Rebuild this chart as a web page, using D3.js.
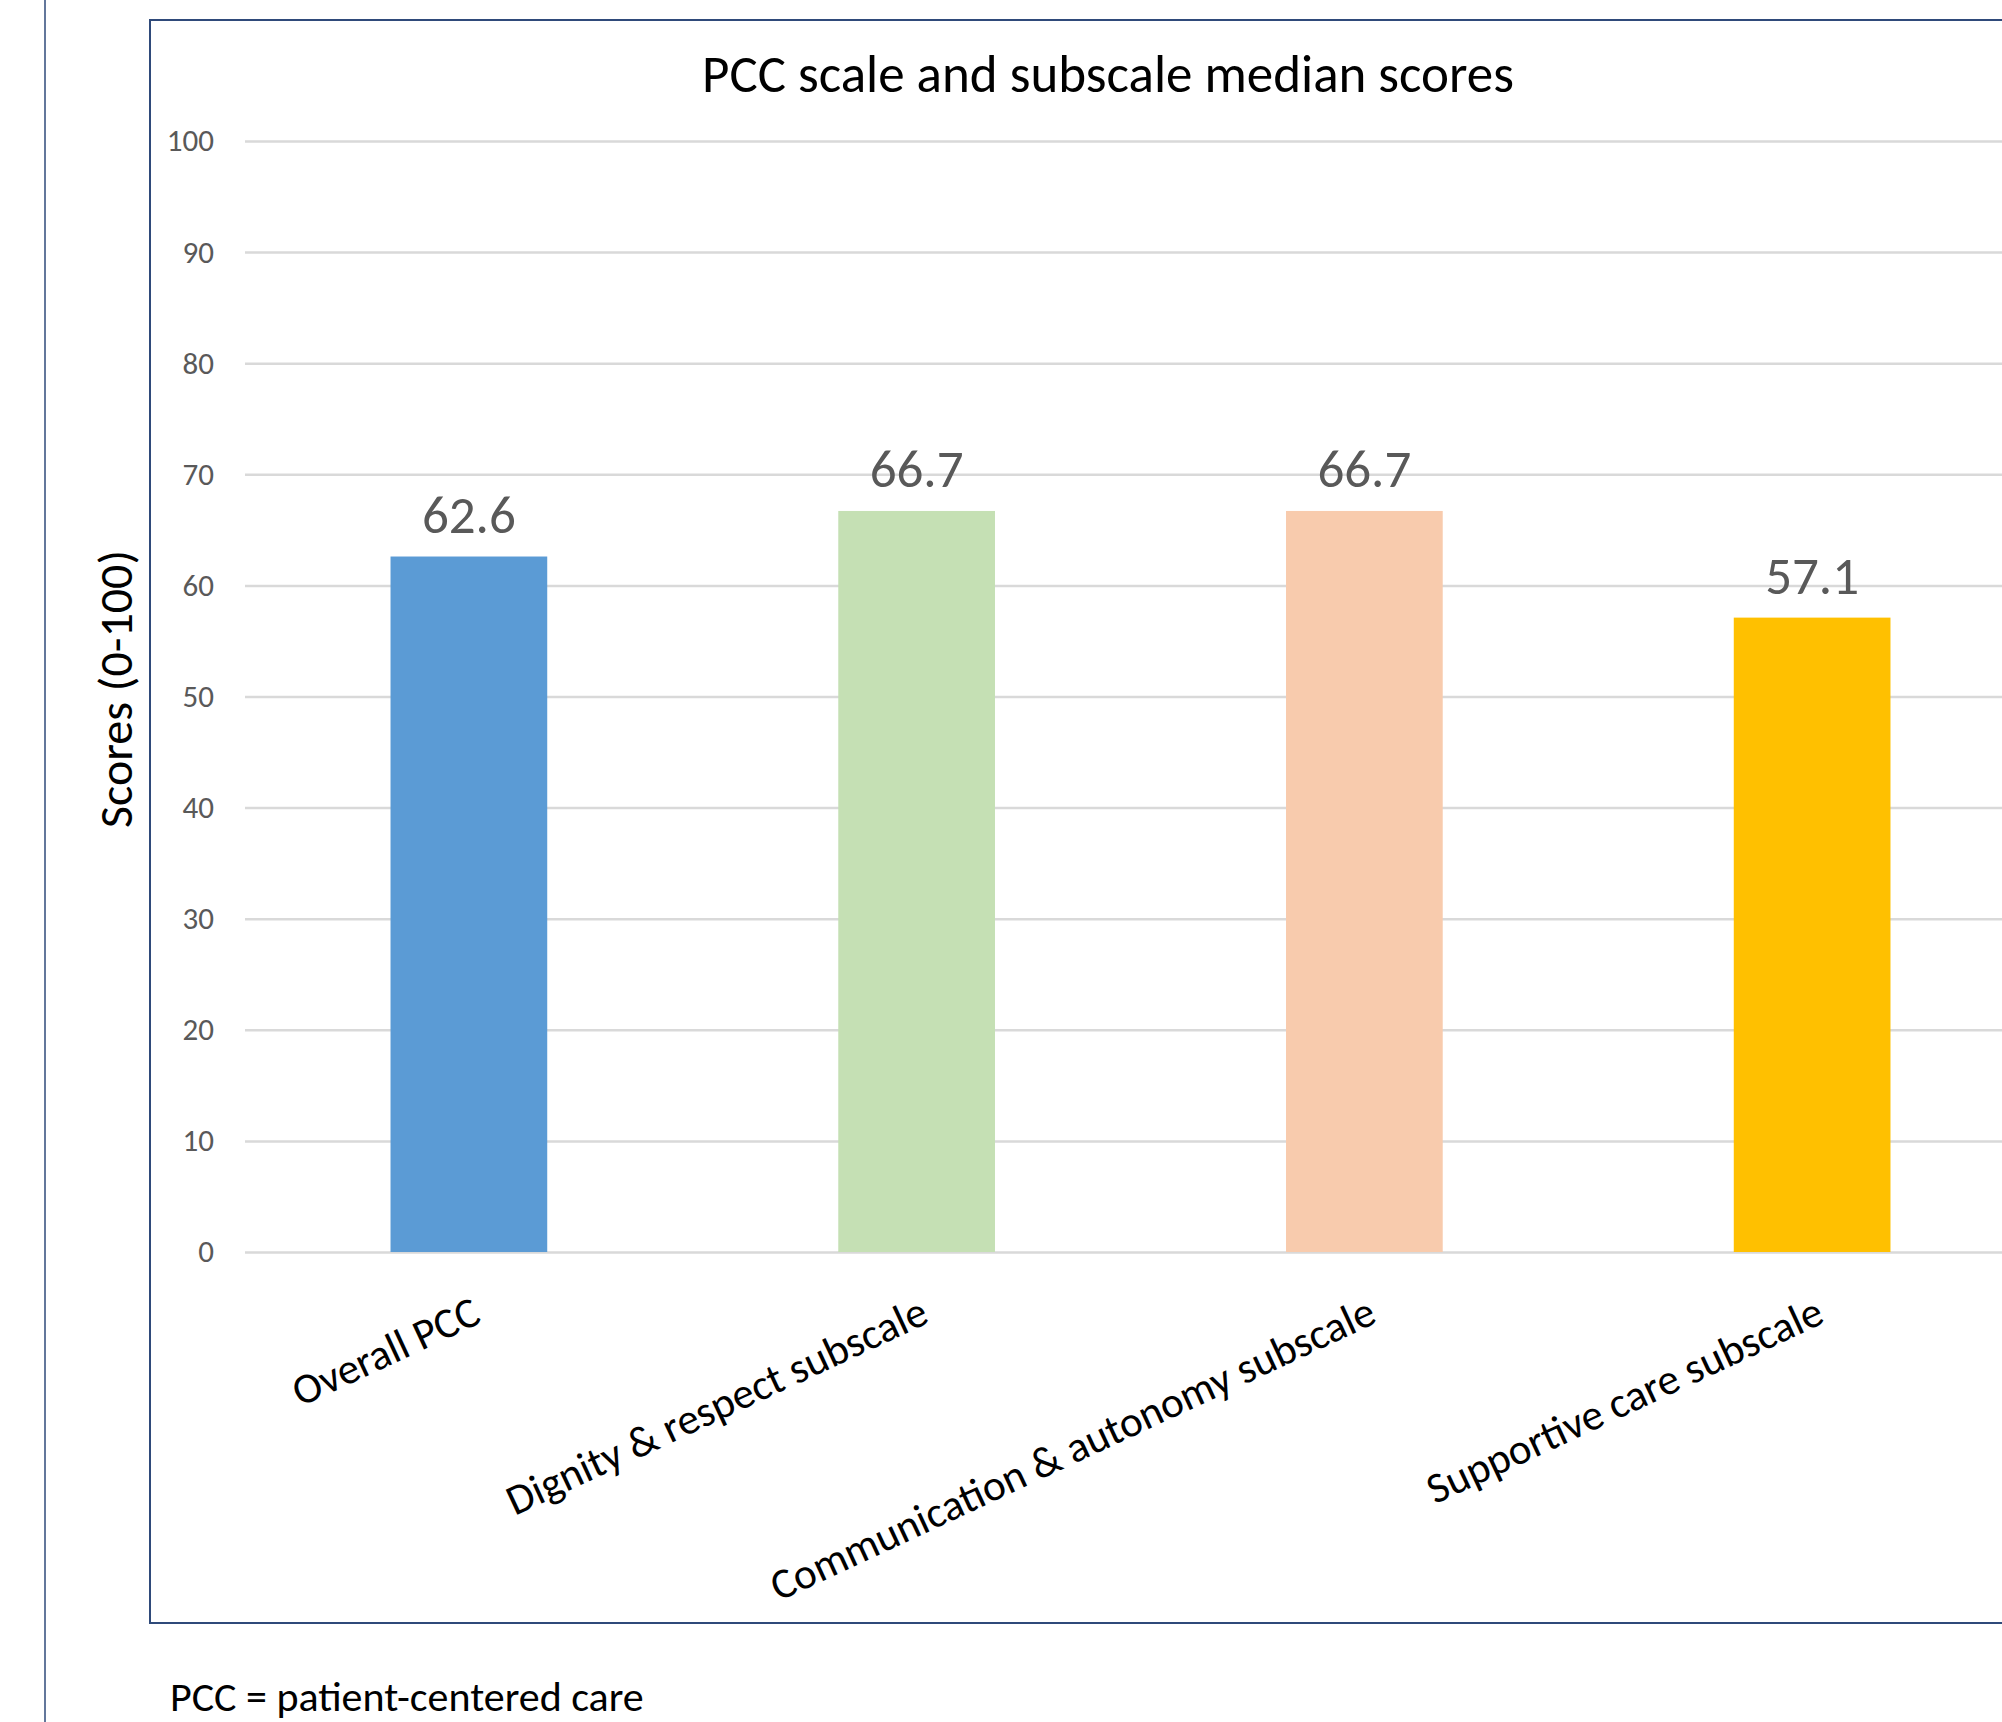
<!DOCTYPE html>
<head>
  <style>
    body { margin: 0; background: #fff; }
    text { font-family: Carlito, Calibri, Lato, "Open Sans", sans-serif; }
    .grid line { stroke: #d9d9d9; stroke-width: 2.5; }
    .grid text { fill: #595959; font-size: 31px; }
    .grid .domain { display: none; }
  </style>
</head>

<body>
  <script src="https://cdn.jsdelivr.net/npm/d3@7"></script>

  <script>
    // chart values
    var categories = ["Overall PCC", "Dignity & respect subscale", "Communication & autonomy subscale", "Supportive care subscale"];
    var scores = [62.6, 66.7, 66.7, 57.1];
    var barColors = ["#5b9bd5", "#c5e0b4", "#f8cbad", "#ffc000"];
    var yTicks = [0, 10, 20, 30, 40, 50, 60, 70, 80, 90, 100];

    var container_w = 2002;
    var container_h = 1722;
    var plotLeft = 245, plotRight = 2036, plotTop = 141, plotBottom = 1252;

    var data = categories.map(function (c, i) {
      return { name: c, score: scores[i], color: barColors[i] };
    });

    var xScale = d3.scaleBand()
      .domain(categories)
      .range([plotLeft, plotRight])
      .paddingInner(0.65)
      .paddingOuter(0.325);

    var yScale = d3.scaleLinear()
      .domain([0, 100])
      .range([plotBottom, plotTop]);

    var svg = d3.select("body")
      .append("svg")
      .attr("width", container_w)
      .attr("height", container_h);

    // outer frame line on the left and the chart box
    svg.append("line")
      .attr("x1", 45).attr("x2", 45)
      .attr("y1", 0).attr("y2", container_h)
      .attr("stroke", "#2f4a7a")
      .attr("stroke-width", 1.5);

    svg.append("rect")
      .attr("x", 150)
      .attr("y", 20)
      .attr("width", 1900)
      .attr("height", 1603)
      .attr("fill", "none")
      .attr("stroke", "#2f4a7a")
      .attr("stroke-width", 2);

    // title
    svg.append("text")
      .attr("x", 1108)
      .attr("y", 92)
      .attr("text-anchor", "middle")
      .attr("font-size", 53)
      .attr("fill", "#000")
      .text("PCC scale and subscale median scores");

    // gridlines + y labels
    var yAxis = d3.axisLeft(yScale)
      .tickValues(yTicks)
      .tickSize(-(plotRight - plotLeft))
      .tickPadding(31);

    svg.append("g")
      .attr("class", "grid")
      .attr("transform", "translate(" + plotLeft + ",0)")
      .call(yAxis);

    // bars
    svg.append("g")
      .selectAll("rect")
      .data(data)
      .enter()
      .append("rect")
      .attr("x", function (d) { return xScale(d.name); })
      .attr("y", function (d) { return yScale(d.score); })
      .attr("width", xScale.bandwidth())
      .attr("height", function (d) { return plotBottom - yScale(d.score); })
      .attr("fill", function (d) { return d.color; });

    // value labels
    svg.append("g")
      .selectAll("text")
      .data(data)
      .enter()
      .append("text")
      .attr("x", function (d) { return xScale(d.name) + xScale.bandwidth() / 2; })
      .attr("y", function (d) { return yScale(d.score) - 24; })
      .attr("text-anchor", "middle")
      .attr("font-size", 53)
      .attr("fill", "#595959")
      .text(function (d) { return d.score.toFixed(1); });

    // category labels, slanted
    svg.append("g")
      .selectAll("text")
      .data(data)
      .enter()
      .append("text")
      .attr("text-anchor", "end")
      .attr("font-size", 43)
      .attr("fill", "#000")
      .attr("transform", function (d) {
        var cx = xScale(d.name) + xScale.bandwidth() / 2 + 14;
        return "translate(" + cx + ",1322) rotate(-25)";
      })
      .text(function (d) { return d.name; });

    // y axis title
    svg.append("text")
      .attr("text-anchor", "middle")
      .attr("font-size", 48)
      .attr("fill", "#000")
      .attr("transform", "translate(132,689) rotate(-90)")
      .text("Scores (0-100)");

    // footnote
    svg.append("text")
      .attr("x", 170)
      .attr("y", 1711)
      .attr("font-size", 42)
      .attr("fill", "#000")
      .text("PCC = patient-centered care");
  </script>
</body>
